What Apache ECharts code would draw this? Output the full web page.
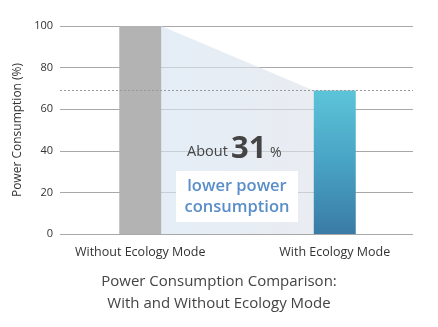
<!DOCTYPE html>
<html><head><meta charset="utf-8">
<script src="https://cdn.jsdelivr.net/npm/echarts@6/dist/echarts.min.js"></script>
<style>html,body{margin:0;padding:0;background:#fff}#c{width:438px;height:327px}</style>
</head><body><div id="c"></div>
<script>
const categories = ['Without Ecology Mode', 'With Ecology Mode'];
const values = [100, 69];
const yTicks = [0, 20, 40, 60, 80, 100];
const reductionPct = 31;
const titleLines = ['Power Consumption Comparison:', 'With and Without Ecology Mode'];
const yAxisName = 'Power Consumption (%)';

const FONT = '"Open Sans", "Noto Sans", sans-serif';
const chart = echarts.init(document.getElementById('c'), null, {renderer: 'canvas'});
const BAR_RATIO = 42 / 194.5;

chart.setOption({
  animation: false,
  grid: [
    {left: 60, right: 25, top: 26, bottom: 93},
    {left: 43, right: 6, top: 26, bottom: 93}
  ],
  xAxis: [
    {gridIndex: 0, type: 'category', data: categories, show: false},
    {gridIndex: 1, type: 'category', data: categories,
     axisLine: {show: false}, axisTick: {show: false},
     axisLabel: {color: '#333', fontFamily: FONT, fontSize: 12.5, margin: 12}}
  ],
  yAxis: [
    {gridIndex: 0, type: 'value', min: yTicks[0], max: yTicks[yTicks.length - 1], interval: yTicks[1] - yTicks[0],
     axisLine: {show: false}, axisTick: {show: false},
     axisLabel: {color: '#333', fontFamily: FONT, fontSize: 11, margin: 7},
     splitLine: {lineStyle: {color: '#a8a8a8', width: 1}},
     name: yAxisName, nameLocation: 'middle', nameGap: 30, nameRotate: 90,
     nameTextStyle: {color: '#333', fontFamily: FONT, fontSize: 12}},
    {gridIndex: 1, type: 'value', min: 0, max: 100, show: false}
  ],
  series: [
    {
      type: 'line', xAxisIndex: 0, yAxisIndex: 0, data: [], silent: true,
      markLine: {symbol: 'none', silent: true, label: {show: false},
        lineStyle: {type: [2, 2], color: '#999', width: 1},
        data: [{yAxis: values[1]}]}
    },
    {
      type: 'custom', xAxisIndex: 1, yAxisIndex: 1, silent: true, z: 1,
      data: [[0, values[0], 1, values[1]]],
      renderItem: function (params, api) {
        const half = api.size([1, 0])[0] * BAR_RATIO / 2;
        const p1 = api.coord([api.value(0), api.value(1)]);
        const p2 = api.coord([api.value(2), api.value(3)]);
        const b1 = api.coord([api.value(0), 0]);
        const b2 = api.coord([api.value(2), 0]);
        const x1 = p1[0] + half, x2 = p2[0] - half;
        return {
          type: 'polygon',
          shape: {points: [[x1, p1[1]], [x2, p2[1]], [x2, b2[1]], [x1, b1[1]]]},
          style: {fill: new echarts.graphic.LinearGradient(0, 0, 1, 0, [
            {offset: 0, color: 'rgba(214,228,242,0.65)'},
            {offset: 1, color: 'rgba(222,226,234,0.65)'}
          ])}
        };
      }
    },
    {
      type: 'bar', xAxisIndex: 1, yAxisIndex: 1, barWidth: 42, z: 3,
      data: [
        {value: values[0], itemStyle: {color: '#b3b3b3'}},
        {value: values[1], itemStyle: {color: new echarts.graphic.LinearGradient(0, 0, 0, 1, [
          {offset: 0, color: '#5cc4d9'},
          {offset: 0.5, color: '#48a3c4'},
          {offset: 1, color: '#3a7ba6'}
        ])}}
      ]
    }
  ],
  graphic: [
    {type: 'rect', left: 176, top: 171, shape: {width: 122, height: 51}, style: {fill: '#fff'}, z: 10},
    {type: 'text', z: 11,
     style: {x: 187, y: 144, text: 'About', font: '14.5px ' + FONT, fill: '#444', verticalAlign: 'top'}},
    {type: 'text', z: 11,
     style: {x: 231, y: 134, text: String(reductionPct), font: 'bold 31px ' + FONT, fill: '#444', verticalAlign: 'top'}},
    {type: 'text', z: 11,
     style: {x: 270, y: 146, text: '%', font: '14px ' + FONT, fill: '#444', verticalAlign: 'top'}},
    {type: 'text', z: 11,
     style: {x: 237, y: 176, text: 'lower power\nconsumption', font: '600 16.5px ' + FONT, fill: '#5a8ec8', align: 'center', verticalAlign: 'top', lineHeight: 21}},
    {type: 'text', z: 11,
     style: {x: 219, y: 271, text: titleLines.join('\n'), font: '15px ' + FONT, fill: '#444', align: 'center', verticalAlign: 'top', lineHeight: 22}}
  ]
});
</script></body></html>
